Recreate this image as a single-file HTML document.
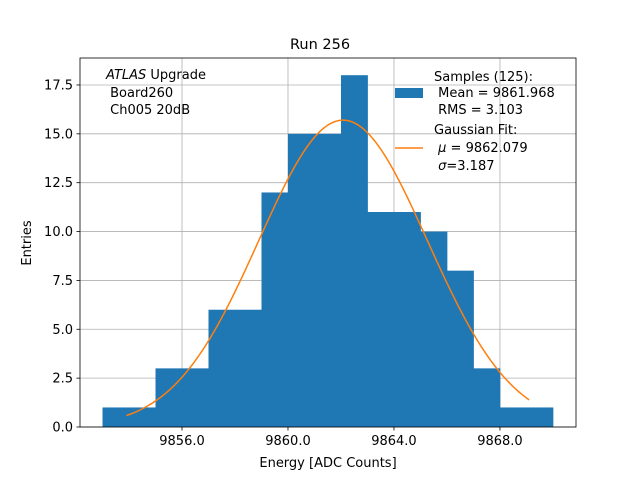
<!DOCTYPE html>
<html><head><meta charset="utf-8"><style>
body{margin:0;background:#fff;}
svg text{font-family:"DejaVu Sans","Liberation Sans",sans-serif;fill:#000;}
</style></head><body>
<svg width="640" height="480" xmlns="http://www.w3.org/2000/svg">
<g id="grid"></g>
<g id="bars"></g>
<path id="fit" fill="none" stroke="#ff7f0e" stroke-width="1.5"/>
<rect x="80" y="58" width="496" height="369" fill="none" stroke="#000" stroke-width="0.8"/>
<g id="axes"></g>
<text x="320" y="49" font-size="14.5" text-anchor="middle">Run 256</text>
<text x="328" y="467" font-size="13" text-anchor="middle">Energy [ADC Counts]</text>
<text x="31" y="243" font-size="13" text-anchor="middle" transform="rotate(-90 31 243)">Entries</text>
<g font-size="13">
<text x="106" y="79"><tspan font-style="italic">ATLAS</tspan> Upgrade</text>
<text x="106" y="97">&#160;Board260</text>
<text x="106" y="114">&#160;Ch005 20dB</text>
</g>
<g font-size="13">
<rect x="395" y="88" width="28" height="10" fill="#1f77b4"/>
<text x="434" y="81">Samples (125):</text>
<text x="434" y="97">&#160;Mean = 9861.968</text>
<text x="434" y="114">&#160;RMS = 3.103</text>
<line x1="395" y1="148" x2="423" y2="148" stroke="#ff7f0e" stroke-width="1.5"/>
<text x="434" y="134">Gaussian Fit:</text>
<text x="434" y="152">&#160;<tspan font-style="italic">μ</tspan> = 9862.079</text>
<text x="434" y="170">&#160;<tspan font-style="italic">σ</tspan>=3.187</text>
</g>
</svg>
<script>
const binEdgesStart = 9853;
const binWidth = 1;
const counts = [1,1,3,3,6,6,12,15,15,18,11,11,10,8,3,1,1];
const fitMu = 9862.079;
const fitSigma = 3.187;
const fitAmp = 15.7;
const fitRange = [9853.9, 9869.1];
const xTicks = [9856,9860,9864,9868];
const xTickLabels = ["9856.0","9860.0","9864.0","9868.0"];
const yTicks = [0,2.5,5,7.5,10,12.5,15,17.5];
const yTickLabels = ["0.0","2.5","5.0","7.5","10.0","12.5","15.0","17.5"];

const L=80,R=576,T=58,B=427, xMin=9852.15, xMax=9870.87, yMin=0, yMax=18.88;
const xs=v=>L+(v-xMin)/(xMax-xMin)*(R-L);
const ys=v=>B-(v-yMin)/(yMax-yMin)*(B-T);
const NS="http://www.w3.org/2000/svg";
function mk(tag,attrs,parent){const e=document.createElementNS(NS,tag);for(const k in attrs)e.setAttribute(k,attrs[k]);parent.appendChild(e);return e;}
const grid=document.getElementById('grid'),bars=document.getElementById('bars'),axes=document.getElementById('axes');
xTicks.forEach((t,i)=>{
  const x=xs(t);
  const g=mk('line',{x1:x,x2:x,y1:T,y2:B,stroke:'#b0b0b0','stroke-width':0.8},grid);
  
  
  const tk=mk('line',{x1:x,x2:x,y1:B,y2:B+3.5,stroke:'#000','stroke-width':0.8},axes);
  
  
  const tx=mk('text',{x:x,y:B+18,'font-size':13,'text-anchor':'middle'},axes);
  tx.textContent=xTickLabels[i];
  
  
});
yTicks.forEach((t,i)=>{
  const y=ys(t);
  const g=mk('line',{x1:L,x2:R,y1:y,y2:y,stroke:'#b0b0b0','stroke-width':0.8},grid);
  
  
  const tk=mk('line',{x1:L-3.5,x2:L,y1:y,y2:y,stroke:'#000','stroke-width':0.8},axes);
  
  
  const tx=mk('text',{x:L-7,y:y+4.5,'font-size':13,'text-anchor':'end'},axes);
  tx.textContent=yTickLabels[i];
  
  
});
counts.forEach((c,i)=>{
  const x0=xs(binEdgesStart+i*binWidth),x1=xs(binEdgesStart+(i+1)*binWidth);
  const r=mk('rect',{x:x0,y:ys(c),width:x1-x0+0.4,height:ys(0)-ys(c),fill:'#1f77b4'},bars);
  
  
});
let d='';const n=200;
for(let i=0;i<=n;i++){const v=fitRange[0]+(fitRange[1]-fitRange[0])*i/n;
  const y=fitAmp*Math.exp(-Math.pow(v-fitMu,2)/(2*fitSigma*fitSigma));
  d+=(i?'L':'M')+xs(v).toFixed(2)+','+ys(y).toFixed(2);}
document.getElementById('fit').setAttribute('d',d);
</script>
</body></html>
